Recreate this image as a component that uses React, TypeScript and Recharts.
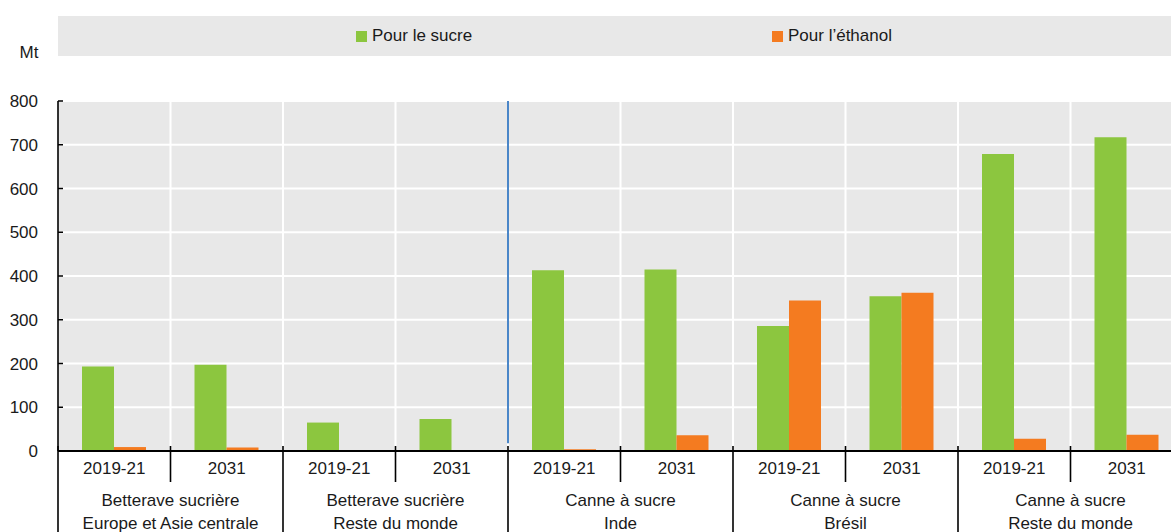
import React from "react";
import { BarChart, Bar, XAxis, YAxis, CartesianGrid, ReferenceLine } from "recharts";

// périodes et groupes (deux lignes de libellé par groupe)
const PERIODS = ["2019-21", "2031"];
const GROUPS = [
  ["Betterave sucrière", "Europe et Asie centrale"],
  ["Betterave sucrière", "Reste du monde"],
  ["Canne à sucre", "Inde"],
  ["Canne à sucre", "Brésil"],
  ["Canne à sucre", "Reste du monde"],
];
const SUCRE = [193, 197, 65, 73, 413, 415, 286, 354, 679, 717];
const ETHANOL = [9, 8, 0, 0, 4, 36, 344, 362, 28, 37];
const Y_TICKS = [0, 100, 200, 300, 400, 500, 600, 700, 800];

const SERIES = [
  { key: "sucre", label: "Pour le sucre", color: "#8cc63f" },
  { key: "ethanol", label: "Pour l’éthanol", color: "#f47b20" },
];

const data = SUCRE.map((v, i) => ({
  id: `c${i}`,
  periode: PERIODS[i % 2],
  sucre: v,
  ethanol: ETHANOL[i],
}));

const FONT = "'Liberation Sans', Arial, sans-serif";
const TXT = "#1a1a1a";
const BG = "#e8e8e8";

function CatTick(props: any) {
  const { x, y, payload, index } = props;
  const half = payload?.offset ?? 56;
  const i = index ?? 0;
  const left = x - half;
  const start = i % 2 === 0;
  const grp = GROUPS[Math.floor(i / 2)];
  return (
    <g>
      <line x1={left} x2={left} y1={y - 5} y2={start ? y + 140 : y + 31} stroke="#000" strokeWidth={1.6} />
      <text x={x} y={y + 23} textAnchor="middle" fontSize={17} fontFamily={FONT} fill={TXT}>
        {data[i]?.periode}
      </text>
      {start && grp && (
        <text textAnchor="middle" fontSize={17} fontFamily={FONT} fill={TXT}>
          <tspan x={x + half} y={y + 55}>{grp[0]}</tspan>
          <tspan x={x + half} y={y + 78}>{grp[1]}</tspan>
        </text>
      )}
    </g>
  );
}

function ValTick(props: any) {
  const { x, y, payload } = props;
  return (
    <g>
      <line x1={x + 20} x2={x + 25} y1={y} y2={y} stroke="#000" strokeWidth={1.5} />
      <text x={x} y={y + 6} textAnchor="end" fontSize={17} fontFamily={FONT} fill={TXT}>
        {payload.value}
      </text>
    </g>
  );
}

function LegendBand() {
  const lefts = [356, 772];
  return (
    <div style={{ position: "absolute", left: 58, top: 16, width: 1125, height: 40, background: BG }}>
      {SERIES.map((s, i) => (
        <div
          key={s.key}
          style={{
            position: "absolute",
            left: lefts[i] - 58,
            top: 10,
            display: "flex",
            alignItems: "center",
            fontFamily: FONT,
            fontSize: 17,
            color: TXT,
            whiteSpace: "nowrap",
          }}
        >
          <span style={{ width: 11, height: 11, background: s.color, marginRight: 5, display: "inline-block" }} />
          {s.label}
        </div>
      ))}
    </div>
  );
}

export default function App() {
  const n = data.length;
  return (
    <div style={{ position: "absolute", left: 0, top: 0, width: 1171, height: 532, overflow: "hidden", background: "#fff" }}>
      <LegendBand />
      <BarChart
        width={1183}
        height={600}
        data={data}
        margin={{ top: 101, right: 0, left: 0, bottom: 0 }}
        barGap={0}
        barSize={32}
      >
        <CartesianGrid
          fill={BG}
          stroke="#fff"
          strokeWidth={2}
          verticalCoordinatesGenerator={({ offset }: any) =>
            Array.from({ length: n - 1 }, (_, k) => offset.left + ((k + 1) * offset.width) / n)
          }
        />
        <XAxis
          dataKey="id"
          interval={0}
          height={149}
          tickLine={false}
          tickSize={0}
          tickMargin={0}
          axisLine={{ stroke: "#000", strokeWidth: 2 }}
          tick={<CatTick />}
        />
        <YAxis
          width={58}
          domain={[0, 800]}
          ticks={Y_TICKS}
          interval={0}
          tickLine={false}
          tickSize={0}
          tickMargin={20}
          axisLine={{ stroke: "#000", strokeWidth: 1.6 }}
          tick={<ValTick />}
          label={{ value: "Mt", position: "top", offset: 43, fontSize: 17, fontFamily: FONT, fill: TXT }}
        />
        {SERIES.map((s) => (
          <Bar key={s.key} dataKey={s.key} name={s.label} fill={s.color} isAnimationActive={false} />
        ))}
        <ReferenceLine
          segment={[
            { x: "c4", y: 18 },
            { x: "c4", y: 800 },
          ]}
          position="start"
          stroke="#4a86c8"
          strokeWidth={2}
        />
      </BarChart>
    </div>
  );
}
